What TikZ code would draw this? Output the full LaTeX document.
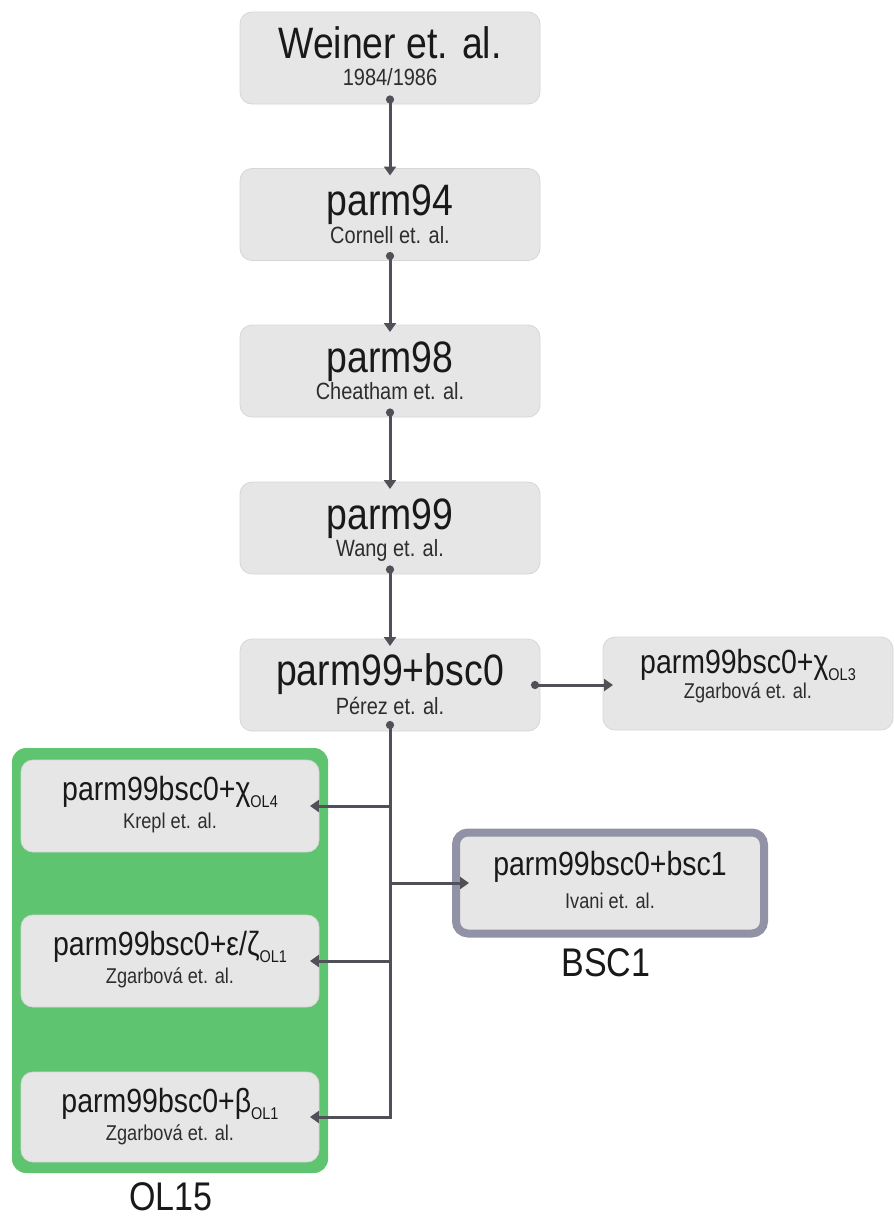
\documentclass[tikz,border=0pt]{standalone}
\usepackage{fontspec}
\setmainfont[FakeStretch=0.85]{Liberation Sans}
\usetikzlibrary{arrows.meta}
\definecolor{boxfill}{RGB}{230,230,230}
\definecolor{boxline}{RGB}{214,214,214}
\definecolor{olgreen}{RGB}{95,196,111}
\definecolor{bsccol}{RGB}{146,146,166}
\definecolor{conncol}{RGB}{80,80,88}
\definecolor{txt}{RGB}{25,25,25}
\definecolor{subtxt}{RGB}{45,45,45}
\newcommand\setfs[1]{\fontsize{#1}{#1}\selectfont}
\newcommand\olsub[1]{\raisebox{-7pt}{\setfs{17}#1}}
\begin{document}
\begin{tikzpicture}[x=1pt,y=-1pt,
  box/.style={draw=boxline, fill=boxfill, line width=0.8pt, rounded corners=12pt,
    inner sep=0pt, outer sep=0pt, minimum width=300pt, minimum height=92pt},
  greenbox/.style={fill=olgreen, rounded corners=14pt, inner sep=0pt, outer sep=0pt,
    minimum width=316pt, minimum height=425pt},
  bscbox/.style={draw=bsccol, fill=boxfill, line width=8pt, rounded corners=12pt,
    inner sep=0pt, outer sep=0pt, minimum width=308pt, minimum height=101pt},
  bigtitle/.style={anchor=base, inner sep=0pt, text=txt, font=\setfs{44}},
  midtitle/.style={anchor=base, inner sep=0pt, text=txt, font=\setfs{33.5}},
  bigsub/.style={anchor=base, inner sep=0pt, text=subtxt, font=\setfs{23.5}},
  midsub/.style={anchor=base, inner sep=0pt, text=subtxt, font=\setfs{21.4}},
  grouplabel/.style={inner sep=0pt, text=txt, font=\setfs{40}},
  conn/.style={draw=conncol, line width=3pt},
  dotarrow/.style={{Circle[length=8pt]}-{Triangle[length=9pt,width=12pt]}},
  tiparrow/.style={-{Triangle[length=9pt,width=12pt]}}
]
\useasboundingbox (0,0) rectangle (894,1218);

% main column
\node[box] (w) at (390,58) {};
\node[box] (p94) at (390,214.5) {};
\node[box] (p98) at (390,371) {};
\node[box] (p99) at (390,528) {};
\node[box] (b0) at (390,685) {};
\node[box, minimum width=290pt, minimum height=93pt] (r3) at (748,683.5) {};

% OL15 group
\node[greenbox] (g) at (170,960.5) {};
\node[box, minimum width=298pt] (c4) at (170,806) {};
\node[box, minimum width=298pt] (e1) at (170,961) {};
\node[box, minimum width=298pt, minimum height=90pt] (bt) at (170,1117) {};
\node[grouplabel] (ol15) at (171,1197) {OL15};

% BSC1 group
\node[bscbox] (bs) at (610,883) {};
\node[grouplabel] (bsc1) at (606,963) {BSC1};

% texts
\path (w.north) ++(0,46) node[bigtitle] (wt) {Weiner et. al.};
\path (w.north) ++(0,73) node[bigsub] (ws) {1984/1986};
\path (p94.north) ++(0,47) node[bigtitle] (p94t) {parm94};
\path (p94.north) ++(0,74.5) node[bigsub] (p94s) {Cornell et. al.};
\path (p98.north) ++(0,47) node[bigtitle] (p98t) {parm98};
\path (p98.north) ++(0,74.5) node[bigsub] (p98s) {Cheatham et. al.};
\path (p99.north) ++(0,47) node[bigtitle] (p99t) {parm99};
\path (p99.north) ++(0,74.5) node[bigsub] (p99s) {Wang et. al.};
\path (b0.north) ++(0,46.5) node[bigtitle] (b0t) {parm99+bsc0};
\path (b0.north) ++(0,75) node[bigsub] (b0s) {Pérez et. al.};
\path (r3.north) ++(0,36) node[midtitle] (r3t) {parm99bsc0+χ\olsub{OL3}};
\path (r3.north) ++(0,61) node[midsub] (r3s) {Zgarbová et. al.};
\path (c4.north) ++(0,40) node[midtitle] (c4t) {parm99bsc0+χ\olsub{OL4}};
\path (c4.north) ++(0,68) node[midsub] (c4s) {Krepl et. al.};
\path (e1.north) ++(0,40) node[midtitle] (e1t) {parm99bsc0+ε/ζ\olsub{OL1}};
\path (e1.north) ++(0,68) node[midsub] (e1s) {Zgarbová et. al.};
\path (bt.north) ++(0,40) node[midtitle] (btt) {parm99bsc0+β\olsub{OL1}};
\path (bt.north) ++(0,68) node[midsub] (bts) {Zgarbová et. al.};
\path (bs.north) ++(0,42.5) node[midtitle] (bst) {parm99bsc0+bsc1};
\path (bs.north) ++(0,75.5) node[midsub] (bss) {Ivani et. al.};

% connectors
\draw[conn, dotarrow] ([yshift=8.5pt]w.south) -- ([yshift=-7pt]p94.north);
\draw[conn, dotarrow] ([yshift=8.5pt]p94.south) -- ([yshift=-7pt]p98.north);
\draw[conn, dotarrow] ([yshift=8.5pt]p98.south) -- ([yshift=-7pt]p99.north);
\draw[conn, dotarrow] ([yshift=8.5pt]p99.south) -- ([yshift=-7pt]b0.north);
\coordinate (rin) at ([xshift=10pt]r3.west |- b0.east);
\draw[conn, dotarrow] ([xshift=-9pt]b0.east) -- (rin);
\draw[conn, dotarrow] ([yshift=10pt]b0.south) |- ([xshift=-9pt]bt.east);
\coordinate (j1) at (b0.south |- c4.east);
\coordinate (j2) at (b0.south |- e1.east);
\coordinate (j3) at (b0.south |- bs.west);
\draw[conn, tiparrow] (j1) -- ([xshift=-9pt]c4.east);
\draw[conn, tiparrow] (j2) -- ([xshift=-9pt]e1.east);
\draw[conn, tiparrow] (j3) -- ([xshift=13pt]bs.west);
\end{tikzpicture}
\end{document}
